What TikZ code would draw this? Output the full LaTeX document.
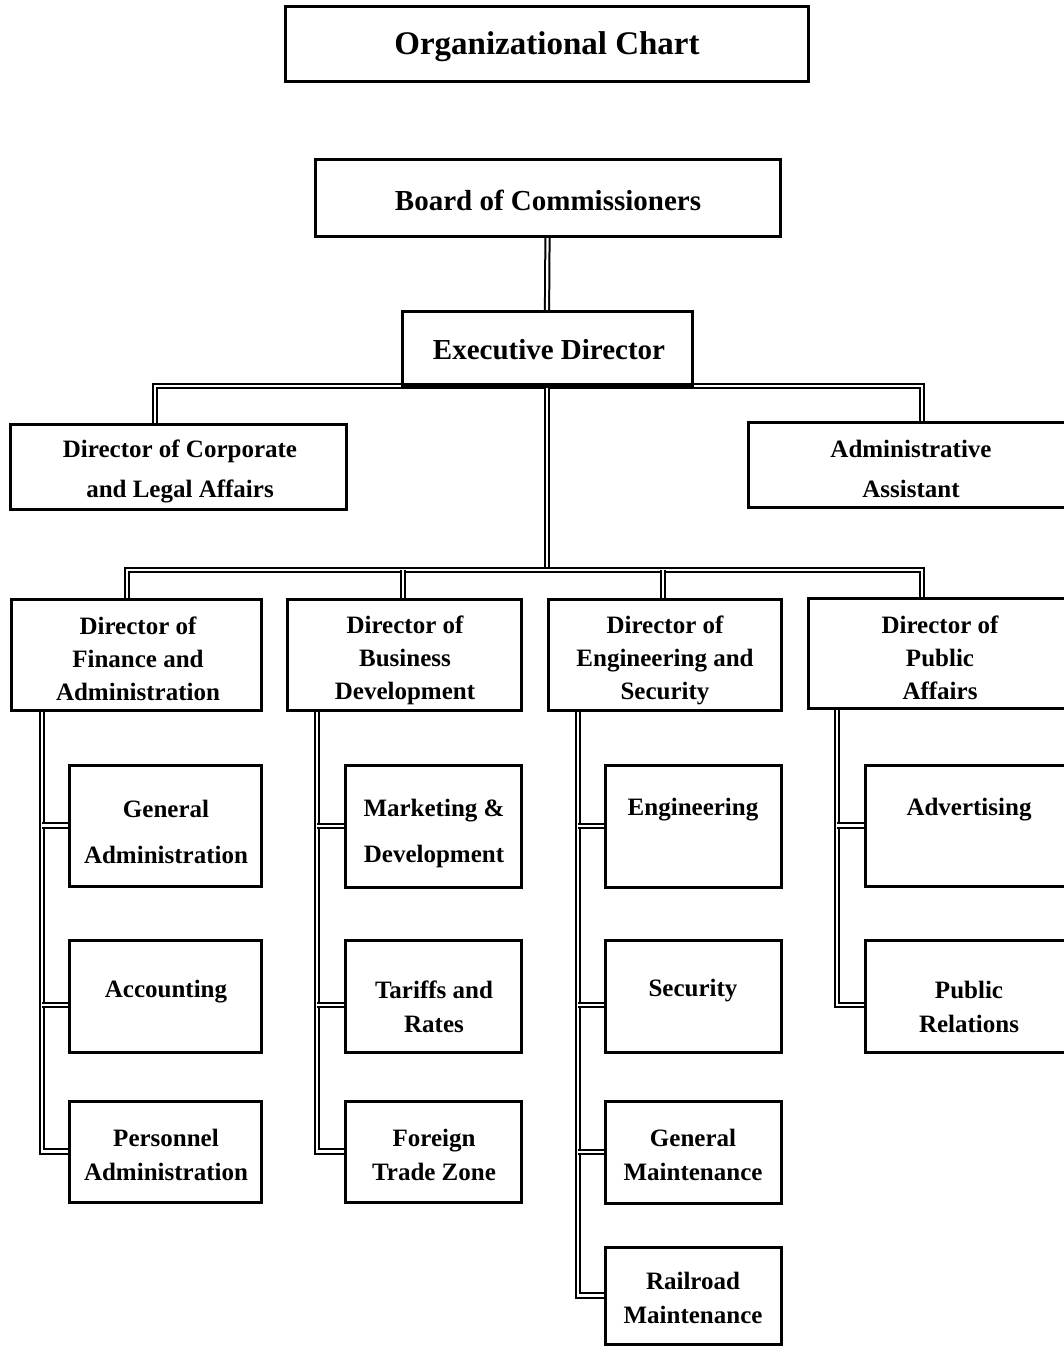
\documentclass[tikz,border=0pt]{standalone}
\usepackage{fontspec}
\setmainfont{Liberation Serif}
\usetikzlibrary{calc}
\pgfdeclarelayer{bg}
\pgfsetlayers{bg,main}
\tikzset{
  box/.style={draw, line width=3pt, inner sep=0pt, outer sep=0pt, anchor=north west},
  conn/.style={double, double distance=2.2pt, line width=2pt, line join=miter},
  txt/.style={font=\bfseries\fontsize{25}{34}\selectfont, align=center, inner sep=0pt},
  txtw/.style={font=\bfseries\fontsize{25}{46}\selectfont, align=center, inner sep=0pt},
  txtc/.style={font=\bfseries\fontsize{25}{40}\selectfont, align=center, inner sep=0pt},
  txtd/.style={font=\bfseries\fontsize{25}{33}\selectfont, align=center, inner sep=0pt},
  txtb/.style={font=\bfseries\fontsize{29}{34}\selectfont, align=center, inner sep=0pt},
  txtt/.style={font=\bfseries\fontsize{33}{38}\selectfont, align=center, inner sep=0pt}
}
\begin{document}
\begin{tikzpicture}[x=1pt,y=-1pt]
\useasboundingbox (0,0) rectangle (1063,1346);
% boxes
\node[box, minimum width=523pt, minimum height=74pt] (title) at (285,7) {};
\node[box, minimum width=465pt, minimum height=77pt] (board) at (315,159) {};
\node[box, minimum width=290pt, minimum height=75pt] (exec) at (402,311) {};
\node[box, minimum width=336pt, minimum height=85pt] (corp) at (10,424) {};
\node[box, minimum width=332pt, minimum height=85pt] (asst) at (748,422) {};
\node[box, minimum width=250pt, minimum height=111pt] (fin) at (11,599) {};
\node[box, minimum width=234pt, minimum height=111pt] (bus) at (287,599) {};
\node[box, minimum width=233pt, minimum height=111pt] (engsec) at (548,599) {};
\node[box, minimum width=272pt, minimum height=110pt] (pub) at (808,598) {};
\node[box, minimum width=192pt, minimum height=121pt] (ga) at (69,765) {};
\node[box, minimum width=192pt, minimum height=112pt] (acc) at (69,940) {};
\node[box, minimum width=192pt, minimum height=101pt] (pers) at (69,1101) {};
\node[box, minimum width=176pt, minimum height=122pt] (mkt) at (345,765) {};
\node[box, minimum width=176pt, minimum height=112pt] (tar) at (345,940) {};
\node[box, minimum width=176pt, minimum height=101pt] (ftz) at (345,1101) {};
\node[box, minimum width=176pt, minimum height=122pt] (engg) at (605,765) {};
\node[box, minimum width=176pt, minimum height=112pt] (sec) at (605,940) {};
\node[box, minimum width=176pt, minimum height=102pt] (gm) at (605,1101) {};
\node[box, minimum width=176pt, minimum height=97pt] (rr) at (605,1247) {};
\node[box, minimum width=215pt, minimum height=121pt] (adv) at (865,765) {};
\node[box, minimum width=215pt, minimum height=112pt] (pr) at (865,940) {};
% texts
\node[txtt] (title-t) at (547,47) {Organizational Chart};
\node[txtb] (board-t) at (548,200) {Board of Commissioners};
\node[txtb] (exec-t) at (549,350) {Executive Director};
\node[txtc] (corp-t) at (180,471) {Director of Corporate\\and Legal Affairs};
\node[txtc] (asst-t) at (911,469) {Administrative\\Assistant};
\node[txtd] (fin-t) at (138,659) {Director of\\Finance and\\Administration};
\node[txtd] (bus-t) at (405,660) {Director of\\Business\\Development};
\node[txtd] (engsec-t) at (665,660) {Director of\\Engineering and\\Security};
\node[txtd] (pub-t) at (940,658) {Director of\\Public\\Affairs};
\node[txtw] (ga-t) at (166,832) {General\\Administration};
\node[txt] (acc-t) at (166,992) {Accounting};
\node[txt] (pers-t) at (166,1155) {Personnel\\Administration};
\node[txtw] (mkt-t) at (434,833) {Marketing \&\\Development};
\node[txt] (tar-t) at (434,1007) {Tariffs and\\Rates};
\node[txt] (ftz-t) at (434,1155) {Foreign\\Trade Zone};
\node[txt] (engg-t) at (693,810) {Engineering};
\node[txt] (sec-t) at (693,991) {Security};
\node[txt] (gm-t) at (693,1155) {General\\Maintenance};
\node[txt] (rr-t) at (693,1298) {Railroad\\Maintenance};
\node[txt] (adv-t) at (969,810) {Advertising};
\node[txt] (pr-t) at (969,1007) {Public\\Relations};
% helper coordinates
\coordinate (xCorp) at (155,0);
\coordinate (xAsst) at (922,0);
\coordinate (xFin) at (127,0);
\coordinate (xBus) at (403,0);
\coordinate (xEng) at (663,0);
\coordinate (xPub) at (922,0);
\coordinate (yBar) at (0,570);
\coordinate (yMid) at (0,1005);
\coordinate (vF) at (42,0);
\coordinate (vB) at (317,0);
\coordinate (vE) at (578,0);
\coordinate (vP) at (837,0);
\begin{pgfonlayer}{bg}
\draw[conn] (board.south) -- (exec.north);
\draw[conn] (corp.north -| xCorp) |- (exec.south) -| (asst.north -| xAsst);
\draw[conn] (exec.south) -- (exec.south |- yBar);
\draw[conn] (fin.north -| xFin) |- (exec.south |- yBar) -| (pub.north -| xPub);
\draw[conn] (bus.north -| xBus) -- (xBus |- yBar);
\draw[conn] (engsec.north -| xEng) -- (xEng |- yBar);
% finance
\draw[conn] (fin.south -| vF) |- (pers.west);
\draw[conn] (vF |- ga.west) -- (ga.west);
\draw[conn] (vF |- yMid) -- (acc.west |- yMid);
% business
\draw[conn] (bus.south -| vB) |- (ftz.west);
\draw[conn] (vB |- mkt.west) -- (mkt.west);
\draw[conn] (vB |- yMid) -- (tar.west |- yMid);
% engineering
\draw[conn] (engsec.south -| vE) |- (rr.west);
\draw[conn] (vE |- engg.west) -- (engg.west);
\draw[conn] (vE |- yMid) -- (sec.west |- yMid);
\draw[conn] (vE |- gm.west) -- (gm.west);
% public
\draw[conn] (pub.south -| vP) |- (pr.west |- yMid);
\draw[conn] (vP |- adv.west) -- (adv.west);
\end{pgfonlayer}
\end{tikzpicture}
\end{document}
